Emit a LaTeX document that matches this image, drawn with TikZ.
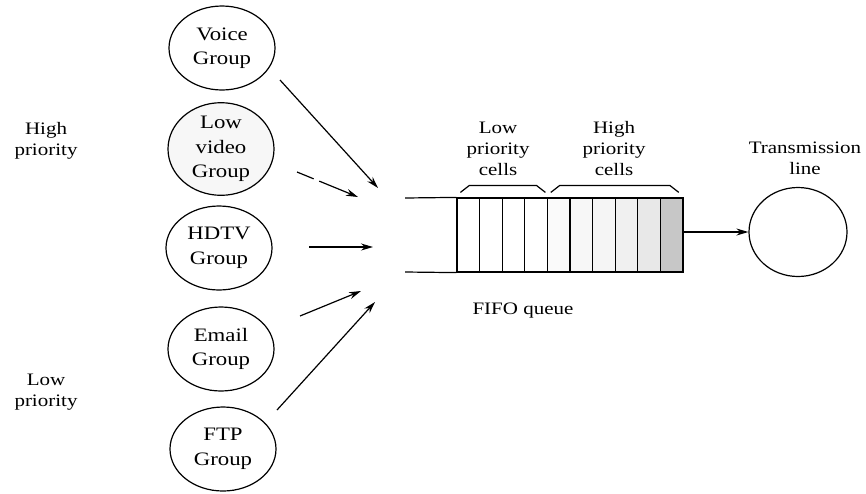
\documentclass[tikz,border=0pt]{standalone}
\usepackage{fontspec}
\setmainfont{Liberation Serif}[FakeStretch=1.2]
\usetikzlibrary{arrows.meta, positioning, shapes.geometric}

\begin{document}
\begin{tikzpicture}[x=1pt, y=-1pt, line width=1.2pt,
    font=\fontsize{17.5}{21}\selectfont,
    group/.style={ellipse, draw, minimum width=106pt, minimum height=84pt, inner sep=0pt, align=center,
        font=\fontsize{19}{24.5}\selectfont},
    feed/.style={-{Stealth[length=12pt, width=7pt]}},
    cellbox/.style={draw, minimum width=22.6pt, minimum height=74pt, inner sep=0pt}]
        \useasboundingbox (0,0) rectangle (866,493);

        % traffic groups
        \node[group] (voice) at (222,48) {Voice\\Group};
        \node[group, fill=black!3] (video) at (221,149) {Low\\video\\Group};
        \node[group] (hdtv) at (219,248) {HDTV\\Group};
        \node[group] (email) at (221,349) {Email\\Group};
        \node[group] (ftp) at (223,449) {FTP\\Group};

        \node[align=center] (high) at (46,141) {High\\priority};
        \node[align=center] (low) at (46,392) {Low\\priority};

        % arrow ends
        \coordinate (voice-out) at (280,80);
        \coordinate (voice-in) at (378,188);
        \coordinate (video-out) at (297,172);
        \coordinate (video-in) at (358,197);
        \coordinate (hdtv-out) at (309,247);
        \coordinate (hdtv-in) at (373,247);
        \coordinate (email-out) at (300,316);
        \coordinate (email-in) at (361,291);
        \coordinate (ftp-out) at (277,410);
        \coordinate (ftp-in) at (375,302);

        \draw[feed] (voice-out) -- (voice-in);
        \draw[feed, dash pattern=on 18pt off 6pt on 40pt] (video-out) -- (video-in);
        \draw[feed] (hdtv-out) -- (hdtv-in);
        \draw[feed] (email-out) -- (email-in);
        \draw[feed] (ftp-out) -- (ftp-in);

        % FIFO queue
        \foreach \i/\shade in {1/0, 2/0, 3/0, 4/0, 5/2, 6/3, 7/4, 8/6, 9/9, 10/22}
            \node[cellbox, fill=black!\shade] (cell\i) at ({457+22.6*(\i-0.5)}, 235) {};
        \coordinate (qtop) at (405,198);
        \coordinate (qbot) at (405,272);
        \draw (qtop) -- (cell1.north west);
        \draw (qbot) -- (cell1.south west);

        \draw (cell1.north west) ++(4,-5) -- ++(9,-7) -- ++(67,0) -- ++(9,7);
        \draw (cell5.north west) ++(4,-5) -- ++(9,-7) -- ++(110,0) -- ++(9,7);
        \node[align=center] (lowcells) at (498,149) {Low\\priority\\cells};
        \node[align=center] (highcells) at (614,149) {High\\priority\\cells};
        \node (fifo) at (523,311) {FIFO queue};

        % transmission line
        \node[ellipse, draw, minimum width=98pt, minimum height=89pt, inner sep=0pt] (tx) at (798,232) {};
        \node[align=center] (txlabel) at (805,158) {Transmission\\line};
        \draw[feed] (cell10.east |- tx.west) -- (tx.west);
    \end{tikzpicture}
\end{document}
